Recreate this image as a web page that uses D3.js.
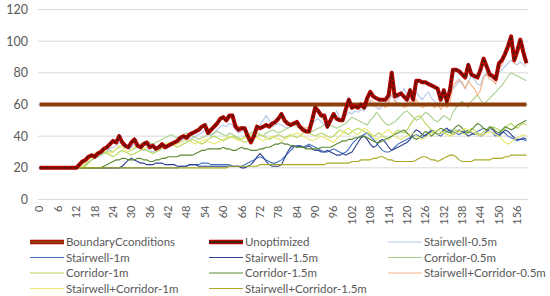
<!DOCTYPE html>
<html>
<head>
<meta charset="utf-8">
<script src="https://cdn.jsdelivr.net/npm/d3@7"></script>
<style>
  body { margin: 0; background: #fff; }
  svg { display: block; font-family: Lato, 'Open Sans', sans-serif; }
</style>
</head>
<body>
<div id="chart"></div>
<script>
const width = 550
const height = 296
const margin = { top: 9.5, left: 38, right: 22, bottom: 96.5 }

const steps = d3.range(160)
const yTicks = [0, 20, 40, 60, 80, 100, 120]

const boundary = [
  60,60,60,60,60,60,60,60,60,60, 60,60,60,60,60,60,60,60,60,60,
  60,60,60,60,60,60,60,60,60,60, 60,60,60,60,60,60,60,60,60,60,
  60,60,60,60,60,60,60,60,60,60, 60,60,60,60,60,60,60,60,60,60,
  60,60,60,60,60,60,60,60,60,60, 60,60,60,60,60,60,60,60,60,60,
  60,60,60,60,60,60,60,60,60,60, 60,60,60,60,60,60,60,60,60,60,
  60,60,60,60,60,60,60,60,60,60, 60,60,60,60,60,60,60,60,60,60,
  60,60,60,60,60,60,60,60,60,60, 60,60,60,60,60,60,60,60,60,60,
  60,60,60,60,60,60,60,60,60,60, 60,60,60,60,60,60,60,60,60,60
]
const unoptimized = [
  20,20,20,20,20,20,20,20,20,20, 20,20,20,22,24,25,27,28,27,29,
  30,32,33,35,37,36,40,36,34,33, 36,38,34,33,35,36,33,34,32,33,
  35,33,34,35,36,37,39,40,39,41, 42,43,44,46,47,42,44,46,48,51,
  52,50,53,53,46,44,45,45,40,36, 40,46,45,46,47,46,48,49,51,54,
  50,48,47,48,49,46,44,43,43,50, 58,56,53,53,46,50,54,51,50,50,
  57,63,58,59,58,60,58,64,68,65, 64,63,63,63,66,80,65,66,67,65,
  63,69,63,75,75,74,74,73,72,71, 70,63,69,62,69,82,82,81,79,77,
  85,79,78,77,82,89,84,79,78,76, 86,88,92,97,103,88,94,101,93,86
]
const stairwell05 = [
  20,20,20,20,20,20,20,20,20,20, 20,20,20,20,21,22,24,25,26,27,
  28,29,31,32,33,34,36,35,33,32, 33,35,34,32,31,32,31,30,31,32,
  33,32,33,34,35,36,37,38,37,38, 39,40,41,42,44,42,41,42,44,46,
  47,46,48,47,44,42,43,44,41,40, 42,44,47,50,53,50,46,47,48,47,
  46,45,46,47,48,46,45,44,45,47, 50,51,49,47,46,49,53,56,52,50,
  53,55,54,56,55,57,56,59,62,60, 58,57,59,60,62,66,62,64,67,70,
  66,64,62,68,65,63,66,68,64,62, 60,62,65,63,66,70,72,75,73,70,
  74,78,76,73,72,78,80,78,76,77, 80,82,84,86,88,86,85,87,85,84
]
const stairwell1 = [
  20,20,20,20,20,20,20,20,20,20, 20,20,20,20,20,20,20,20,20,20,
  20,20,20,20,20,20,20,20,20,20, 20,20,20,20,20,20,20,20,20,20,
  20,20,20,20,20,20,21,21,21,22, 22,22,22,23,23,23,22,22,22,22,
  22,22,22,21,21,21,21,22,23,24, 25,26,27,26,25,24,23,23,24,25,
  27,29,31,33,34,34,33,34,35,34, 33,32,31,30,30,31,32,31,30,29,
  30,32,35,37,39,40,41,42,40,38, 36,33,31,30,30,31,33,35,36,37,
  38,39,40,41,40,39,41,42,43,42, 41,40,42,43,44,43,42,41,42,43,
  44,42,41,43,44,45,44,43,42,40, 41,43,42,40,39,38,37,38,38,37
]
const stairwell15 = [
  20,20,20,20,20,20,20,20,20,20, 20,20,20,20,20,20,20,20,20,20,
  20,20,20,20,20,20,20,21,23,25, 26,25,24,23,23,22,22,22,23,23,
  23,22,22,22,22,21,21,21,21,22, 22,22,21,21,21,21,21,21,21,21,
  21,21,21,21,21,21,20,20,21,22, 24,27,29,27,24,22,21,21,21,22,
  26,30,33,34,33,34,33,33,34,32, 31,31,30,30,31,30,29,28,28,29,
  28,29,30,33,36,39,40,38,35,33, 34,37,38,36,33,31,32,33,34,35,
  36,38,42,44,43,41,40,42,44,43, 41,42,44,45,43,41,42,44,43,42,
  40,41,42,41,40,41,43,45,44,42, 40,42,44,43,41,39,38,38,39,38
]
const corridor05 = [
  20,20,20,20,20,20,20,20,20,20, 20,20,20,20,21,22,23,25,26,27,
  28,29,30,31,30,32,33,34,33,32, 31,32,34,35,36,37,36,35,36,37,
  38,39,40,41,40,39,40,41,42,41, 40,39,38,39,40,41,40,42,43,42,
  41,40,42,41,40,39,38,40,41,42, 43,42,41,40,42,43,44,43,42,43,
  44,45,46,47,46,45,44,43,42,43, 44,45,46,47,48,47,46,45,46,47,
  48,50,52,51,50,49,48,47,50,52, 55,53,50,48,47,48,49,51,53,55,
  56,54,52,50,51,53,55,54,52,50, 49,51,53,52,50,55,58,60,62,60,
  58,62,64,66,63,60,62,64,66,68, 70,72,75,78,80,79,78,77,76,75
]
const corridor1 = [
  20,20,20,20,20,20,20,20,20,20, 20,20,20,20,20,21,23,25,27,28,
  29,30,29,28,27,28,30,31,30,29, 28,29,30,31,32,31,30,29,30,31,
  32,33,34,35,34,33,34,35,36,37, 38,37,36,35,36,38,39,40,39,38,
  37,38,39,40,39,38,37,36,37,38, 39,40,41,40,39,38,39,40,41,40,
  39,40,41,40,39,40,42,43,42,41, 40,41,42,41,40,39,40,42,44,43,
  42,41,43,44,45,44,43,42,41,40, 41,42,40,39,38,40,42,44,43,42,
  44,47,50,52,53,51,48,46,44,42, 41,42,43,41,40,42,44,43,42,41,
  43,45,44,42,41,43,44,45,46,45, 44,43,45,47,48,46,45,47,48,47
]
const corridor15 = [
  20,20,20,20,20,20,20,20,20,20, 20,20,20,20,20,20,20,20,20,20,
  20,21,22,23,24,25,25,26,26,25, 25,25,26,26,25,25,24,24,25,25,
  26,26,27,27,27,27,28,28,28,28, 28,29,30,31,31,32,32,32,32,32,
  33,32,32,31,31,32,33,32,32,31, 31,31,32,32,33,33,34,35,35,36,
  35,35,34,34,33,33,33,32,32,32, 32,32,33,33,33,33,34,35,36,37,
  37,38,38,39,39,40,40,39,38,37, 36,36,37,38,39,40,41,42,43,44,
  42,40,39,38,39,41,43,42,40,42, 44,45,44,43,42,44,46,47,45,43,
  42,44,46,48,47,45,44,46,45,43, 42,44,46,45,44,45,47,48,49,50
]
const stairCorr05 = [
  20,20,20,20,20,20,20,20,20,20, 20,20,20,21,23,25,26,28,29,30,
  31,32,34,35,36,38,39,37,35,34, 35,37,36,34,35,37,35,34,33,34,
  35,34,35,36,37,38,40,41,40,42, 43,44,45,46,47,45,45,47,49,50,
  51,51,52,51,48,46,46,45,42,39, 41,45,46,46,48,47,48,50,51,52,
  51,49,48,49,49,47,46,45,46,51, 56,55,52,50,48,51,53,51,50,51,
  55,60,57,58,57,59,58,61,63,62, 60,59,60,58,61,70,62,61,60,58,
  59,62,60,63,60,58,59,61,60,58, 60,57,60,58,61,72,74,76,74,70,
  75,72,70,66,69,77,79,76,75,73, 82,85,90,94,98,86,90,96,90,85
]
const stairCorr1 = [
  20,20,20,20,20,20,20,20,20,20, 20,20,20,20,21,23,25,27,29,30,
  31,31,30,29,30,32,34,33,31,30, 31,33,34,33,32,33,34,33,32,33,
  34,35,36,35,34,35,36,37,38,37, 36,35,36,37,38,37,36,35,36,37,
  38,39,40,39,38,37,38,39,40,41, 40,39,38,37,38,39,40,39,38,37,
  38,39,40,41,42,41,40,39,38,37, 38,39,40,39,38,37,36,38,40,42,
  44,45,43,42,41,43,45,44,42,40, 38,39,41,43,44,42,40,39,38,39,
  40,41,42,40,39,38,39,41,42,43, 44,43,42,41,40,41,42,43,44,45,
  44,43,42,41,40,41,42,43,42,41, 40,38,36,35,36,38,39,40,41,40
]
const stairCorr15 = [
  20,20,20,20,20,20,20,20,20,20, 20,20,20,20,20,20,20,20,20,20,
  20,20,20,20,20,20,20,20,20,20, 20,20,20,20,20,20,20,20,20,20,
  20,20,20,20,20,20,20,20,20,20, 20,20,20,20,20,20,20,20,20,20,
  20,20,21,21,21,21,21,21,21,21, 21,21,22,22,22,22,22,22,22,22,
  22,22,22,22,22,22,22,22,22,22, 22,22,22,22,23,23,23,23,23,23,
  23,23,24,24,24,25,25,25,25,26, 26,27,27,26,25,25,24,24,24,24,
  24,24,24,25,26,27,27,26,25,25, 24,25,26,27,28,28,27,25,24,24,
  24,24,25,25,25,25,25,25,26,26, 26,26,27,27,28,28,28,28,28,28
]

// thin series, drawn under the two thick ones
const thinSeries = [
  { name: 'Stairwell-0.5m', values: stairwell05, color: '#b4c7e7' },
  { name: 'Stairwell-1m', values: stairwell1, color: '#4472c4' },
  { name: 'Stairwell-1.5m', values: stairwell15, color: '#2f3f8f' },
  { name: 'Corridor-0.5m', values: corridor05, color: '#a9d18e' },
  { name: 'Corridor-1m', values: corridor1, color: '#b7d65a' },
  { name: 'Corridor-1.5m', values: corridor15, color: '#5b8a32' },
  { name: 'Stairwell+Corridor-0.5m', values: stairCorr05, color: '#f4b183' },
  { name: 'Stairwell+Corridor-1m', values: stairCorr1, color: '#e8e870' },
  { name: 'Stairwell+Corridor-1.5m', values: stairCorr15, color: '#a8aa26' }
]

const svg = d3
  .select('#chart')
  .append('svg')
  .attr('width', width)
  .attr('height', height)

const x = d3
  .scaleBand()
  .domain(steps)
  .range([margin.left, width - margin.right])
const y = d3
  .scaleLinear()
  .domain([0, 120])
  .range([height - margin.bottom, margin.top])

const xc = i => x(i) + x.bandwidth() / 2

// gridlines
svg
  .append('g')
  .selectAll('line')
  .data(yTicks)
  .enter()
  .append('line')
  .attr('x1', margin.left)
  .attr('x2', width - margin.right)
  .attr('y1', d => y(d))
  .attr('y2', d => y(d))
  .attr('stroke', '#d9d9d9')
  .attr('stroke-width', 1)

// y axis labels
const yAxis = d3.axisLeft(y).tickValues(yTicks).tickSize(0).tickPadding(10)
svg
  .append('g')
  .attr('transform', 'translate(' + margin.left + ',0)')
  .call(yAxis)
  .call(g => g.select('.domain').remove())
  .selectAll('text')
  .style('font-size', '12.5px')
  .style('font-family', 'Lato, sans-serif')
  .attr('fill', '#595959')

// x axis labels
const xAxis = d3
  .axisBottom(x)
  .tickValues(steps.filter(d => d % 6 === 0))
  .tickSize(0)
svg
  .append('g')
  .attr('transform', 'translate(0,' + (height - margin.bottom) + ')')
  .call(xAxis)
  .call(g => g.select('.domain').remove())
  .selectAll('text')
  .attr('transform', 'rotate(-90)')
  .attr('text-anchor', 'end')
  .attr('x', -6)
  .attr('y', 0)
  .attr('dy', '0.35em')
  .style('font-size', '11px')
  .style('font-family', 'Lato, sans-serif')
  .attr('fill', '#595959')

const line = d3
  .line()
  .x((d, i) => xc(i))
  .y(d => y(d))

svg
  .append('g')
  .selectAll('path')
  .data(thinSeries)
  .enter()
  .append('path')
  .attr('d', d => line(d.values))
  .attr('fill', 'none')
  .attr('stroke', d => d.color)
  .attr('stroke-width', 1.1)

// BoundaryCconditions
svg
  .append('path')
  .attr('d', line(boundary))
  .attr('fill', 'none')
  .attr('stroke', '#8e3f0c')
  .attr('stroke-width', 4)

// Unoptimized
svg
  .append('path')
  .attr('d', line(unoptimized))
  .attr('fill', 'none')
  .attr('stroke', '#b00000')
  .attr('stroke-width', 4)
  .attr('stroke-linejoin', 'round')
svg
  .append('path')
  .attr('d', line(unoptimized))
  .attr('fill', 'none')
  .attr('stroke', '#4a1a08')
  .attr('stroke-width', 1.6)
  .attr('stroke-dasharray', '3,2')

// legend
const legendItems = [
  { name: 'BoundaryCconditions', kind: 'boundary' },
  { name: 'Unoptimized', kind: 'unopt' }
].concat(thinSeries.map(d => ({ name: d.name, kind: 'thin', color: d.color })))

const colX = [30, 209, 388]
const legend = svg
  .append('g')
  .selectAll('g')
  .data(legendItems)
  .enter()
  .append('g')
  .attr('transform', (d, i) => 'translate(' + colX[i % 3] + ',' + (242 + Math.floor(i / 3) * 15.5) + ')')

legend.each(function(d) {
  const g = d3.select(this)
  if (d.kind === 'boundary') {
    g.append('line').attr('x1', 0).attr('x2', 34).attr('stroke', '#c00000').attr('stroke-width', 4.5)
    g.append('line').attr('x1', 0).attr('x2', 34).attr('stroke', '#8e3f0c').attr('stroke-width', 2.5)
  } else if (d.kind === 'unopt') {
    g.append('line').attr('x1', 0).attr('x2', 34).attr('stroke', '#c00000').attr('stroke-width', 4.5)
    g.append('line').attr('x1', 0).attr('x2', 34).attr('stroke', '#3d2a10').attr('stroke-width', 2)
  } else {
    g.append('line').attr('x1', 0).attr('x2', 34).attr('stroke', d.color).attr('stroke-width', 1.2)
  }
  g.append('text')
    .attr('x', 36)
    .attr('dy', '0.35em')
    .text(d.name)
    .style('font-size', '11.5px')
    .attr('fill', '#595959')
})
</script>
</body>
</html>
